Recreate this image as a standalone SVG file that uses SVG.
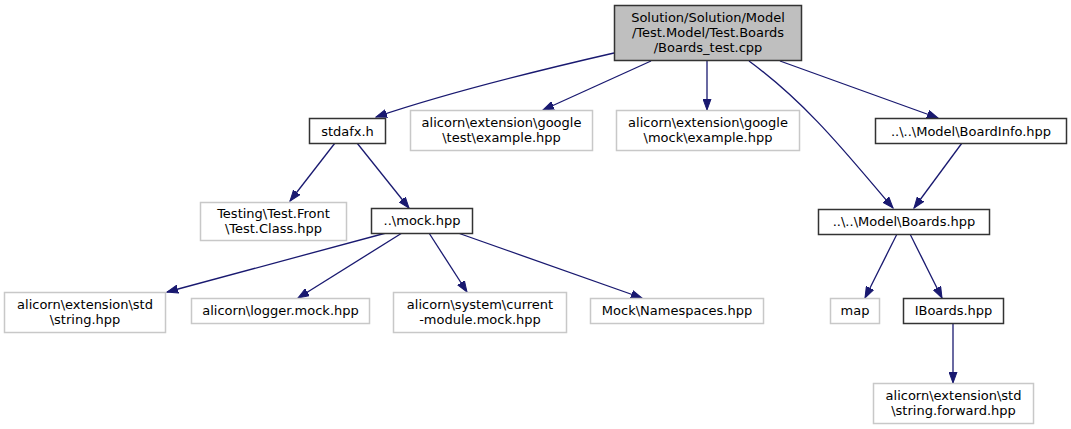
<svg xmlns="http://www.w3.org/2000/svg" width="1071" height="429" viewBox="0 0 1071 429">
<style>
text{font-family:"DejaVu Sans","Liberation Sans",sans-serif;font-size:13px;fill:#000;text-anchor:middle}
.doc{fill:#fff;stroke:#333;stroke-width:1.5}
.ext{fill:#fff;stroke:#c8c8c8;stroke-width:1.5}
.root{fill:#bfbfbf;stroke:#333;stroke-width:1.5}
.e{fill:none;stroke:#191970;stroke-width:1.3}
</style>
<defs>
<marker id="a" markerUnits="userSpaceOnUse" markerWidth="12" markerHeight="9" refX="11" refY="4.5" orient="auto">
<path d="M0,0.5 L11,4.5 L0,8.5 z" fill="#191970" stroke="#191970"/>
</marker>
</defs>
<rect width="1071" height="429" fill="#fff"/>
<g id="edges">
<path class="e" marker-end="url(#a)" d="M614,53 C540,70 450,92 376,117"/>
<path class="e" marker-end="url(#a)" d="M651,61 L543,110"/>
<path class="e" marker-end="url(#a)" d="M707,61 L707,110"/>
<path class="e" marker-end="url(#a)" d="M780,61 L938,118"/>
<path class="e" marker-end="url(#a)" d="M749,61 C810,106 850,158 893,208"/>
<path class="e" marker-end="url(#a)" d="M962,143 L914,208"/>
<path class="e" marker-end="url(#a)" d="M335,143 L290,201"/>
<path class="e" marker-end="url(#a)" d="M357,143 L409,208"/>
<path class="e" marker-end="url(#a)" d="M386,233 L167,292"/>
<path class="e" marker-end="url(#a)" d="M402,233 L298,298"/>
<path class="e" marker-end="url(#a)" d="M429,233 L467,292"/>
<path class="e" marker-end="url(#a)" d="M458,233 L642,298"/>
<path class="e" marker-end="url(#a)" d="M897,234 L865,298"/>
<path class="e" marker-end="url(#a)" d="M910,234 L942,298"/>
<path class="e" marker-end="url(#a)" d="M953,324 L953,383"/>
</g>
<g id="root"><rect class="root" x="614.5" y="5.5" width="187" height="55"/>
<text x="708" y="22">Solution/Solution/Model</text><text x="708" y="37">/Test.Model/Test.Boards</text><text x="708" y="52">/Boards_test.cpp</text></g>
<g id="stdafx"><rect class="doc" x="309.5" y="118.5" width="76" height="25"/><text x="347.5" y="135.5">stdafx.h</text></g>
<g id="gtest"><rect class="ext" x="410.5" y="110.5" width="182" height="40"/><text x="501.5" y="127">alicorn\extension\google</text><text x="501.5" y="142">\test\example.hpp</text></g>
<g id="gmock"><rect class="ext" x="616.5" y="110.5" width="183" height="40"/><text x="708" y="127">alicorn\extension\google</text><text x="708" y="142">\mock\example.hpp</text></g>
<g id="boardinfo"><rect class="doc" x="875.5" y="118.5" width="191" height="25"/><text x="971" y="135.5">..\..\Model\BoardInfo.hpp</text></g>
<g id="testing"><rect class="ext" x="200.5" y="202.5" width="146" height="38"/><text x="273.5" y="218">Testing\Test.Front</text><text x="273.5" y="233">\Test.Class.hpp</text></g>
<g id="mock"><rect class="doc" x="371.5" y="208.5" width="101" height="25"/><text x="422" y="225">..\mock.hpp</text></g>
<g id="boards"><rect class="doc" x="818.5" y="209.5" width="171" height="25"/><text x="904" y="226">..\..\Model\Boards.hpp</text></g>
<g id="string"><rect class="ext" x="4.5" y="292.5" width="161" height="40"/><text x="85" y="309">alicorn\extension\std</text><text x="85" y="324">\string.hpp</text></g>
<g id="logger"><rect class="ext" x="191.5" y="298.5" width="178" height="25"/><text x="280.5" y="315">alicorn\logger.mock.hpp</text></g>
<g id="current"><rect class="ext" x="393.5" y="292.5" width="173" height="40"/><text x="480" y="309">alicorn\system\current</text><text x="480" y="324">-module.mock.hpp</text></g>
<g id="namespaces"><rect class="ext" x="590.5" y="298.5" width="173" height="25"/><text x="677" y="315">Mock\Namespaces.hpp</text></g>
<g id="map"><rect class="ext" x="830.5" y="298.5" width="49" height="25"/><text x="855" y="315">map</text></g>
<g id="iboards"><rect class="doc" x="903.5" y="298.5" width="100" height="25"/><text x="953.5" y="315">IBoards.hpp</text></g>
<g id="forward"><rect class="ext" x="873.5" y="383.5" width="160" height="40"/><text x="953.5" y="400">alicorn\extension\std</text><text x="953.5" y="415">\string.forward.hpp</text></g>
</svg>
